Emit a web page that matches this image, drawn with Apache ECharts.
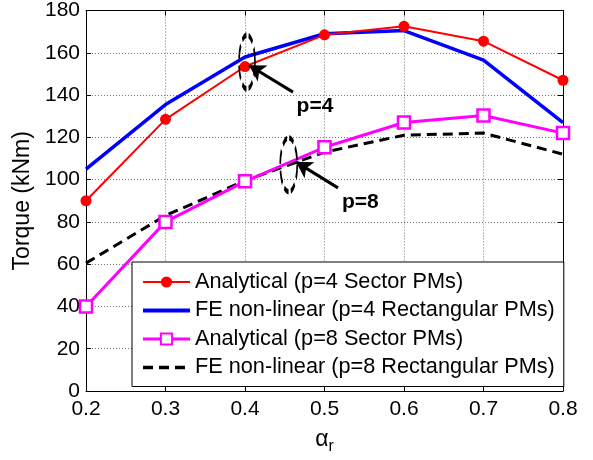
<!DOCTYPE html>
<html>
<head>
<meta charset="utf-8">
<script src="https://cdn.jsdelivr.net/npm/echarts@6/dist/echarts.min.js"></script>
<style>html,body{margin:0;padding:0;background:#fff;}#c{width:593px;height:460px;}</style>
</head>
<body>
<div id="c"></div>
<script>
const alphaR = [0.2, 0.3, 0.4, 0.5, 0.6, 0.7, 0.8];
const analyticalP4 = [90, 128.5, 153.5, 168.5, 172.5, 165.5, 147];
const feP4 = [105, 135.5, 158, 169, 170.5, 156.5, 127];
const analyticalP8 = [40, 80, 99.2, 115.3, 127, 130.3, 122];
const feP8 = [60.5, 83, 99.5, 113, 121, 122, 112];
const seriesNames = [
  'Analytical (p=4 Sector PMs)',
  'FE non-linear (p=4 Rectangular PMs)',
  'Analytical (p=8 Sector PMs)',
  'FE non-linear (p=8 Rectangular PMs)'
];
// annotation anchors in data units
const ellipseP4 = [0.4025, 155.6];
const ellipseP8 = [0.455, 107];
const arrowP4 = [[0.4604, 141.4], [0.405, 154.1]];
const arrowP8 = [[0.517, 96.1], [0.464, 108.4]];
const labelP4 = [0.488, 134.5];
const labelP8 = [0.545, 89.5];

const FONT = 'Liberation Sans, Arial, sans-serif';
const pairs = (ys) => alphaR.map((x, i) => [x, ys[i]]);

const chart = echarts.init(document.getElementById('c'), null, {renderer: 'canvas'});
const axisCommonX = {
  type: 'value', min: 0.2, max: 0.8, interval: 0.1,
  axisLine: {show: true, onZero: false, lineStyle: {color: '#000', width: 1}},
  axisTick: {show: true, inside: true, length: 5, lineStyle: {color: '#000'}},
  splitLine: {show: false}
};
const axisCommonY = {
  type: 'value', min: 0, max: 180, interval: 20,
  axisLine: {show: true, onZero: false, lineStyle: {color: '#000', width: 1}},
  axisTick: {show: true, inside: true, length: 5, lineStyle: {color: '#000'}},
  splitLine: {show: false}
};
const ellipseStyle = {color: 'rgba(0,0,0,0)', borderColor: '#000', borderWidth: 3, borderType: [8, 4]};
const pLabel = (t) => ({show: true, position: 'inside', formatter: t, color: '#000',
  fontFamily: FONT, fontSize: 21, fontWeight: 'bold'});
const option = {
  animation: false,
  backgroundColor: '#fff',
  grid: {left: 86, right: 30, top: 10, bottom: 68, containLabel: false},
  xAxis: [
    Object.assign({}, axisCommonX, {
      position: 'bottom',
      axisLabel: {show: true, color: '#000', fontFamily: FONT, fontSize: 21, margin: 8,
        formatter: v => v.toFixed(1)},
      splitLine: {show: true, lineStyle: {color: '#777', type: [1, 2], width: 1}},
      name: '{a|α}{s|r}',
      nameLocation: 'middle', nameGap: 34,
      nameTextStyle: {rich: {
        a: {fontFamily: FONT, fontSize: 23, color: '#000'},
        s: {fontFamily: FONT, fontSize: 16, color: '#000', padding: [14, 0, 0, 0]}
      }}
    }),
    Object.assign({}, axisCommonX, {position: 'top', axisLabel: {show: false}})
  ],
  yAxis: [
    Object.assign({}, axisCommonY, {
      position: 'left',
      axisLabel: {show: true, color: '#000', fontFamily: FONT, fontSize: 21, margin: 6},
      splitLine: {show: true, lineStyle: {color: '#777', type: [1, 2], width: 1}},
      name: 'Torque (kNm)', nameLocation: 'middle', nameGap: 51,
      nameTextStyle: {fontFamily: FONT, fontSize: 23, color: '#000'}
    }),
    Object.assign({}, axisCommonY, {position: 'right', axisLabel: {show: false}})
  ],
  legend: {
    orient: 'vertical', left: 132, top: 262,
    backgroundColor: '#fff', borderColor: '#000', borderWidth: 1,
    padding: [9, 9, 8, 9], itemGap: 6.5, itemWidth: 47, itemHeight: 14,
    textStyle: {fontFamily: FONT, fontSize: 21.7, color: '#000', lineHeight: 21},
    data: [
      {name: seriesNames[0], lineStyle: {width: 2}},
      {name: seriesNames[1], itemStyle: {opacity: 0}, lineStyle: {width: 4}},
      {name: seriesNames[2], lineStyle: {width: 3}},
      {name: seriesNames[3], itemStyle: {opacity: 0}, lineStyle: {width: 3.5}}
    ]
  },
  series: [
    {
      name: seriesNames[0], type: 'line', data: pairs(analyticalP4), z: 3,
      symbol: 'circle', symbolSize: 11, showAllSymbol: true,
      lineStyle: {color: '#ff0000', width: 2}, itemStyle: {color: '#ff0000'},
      markLine: {
        silent: true, symbol: ['none', 'arrow'], symbolSize: [14, 16],
        lineStyle: {color: '#000', width: 3, type: 'solid'},
        label: {show: false},
        data: [
          [{coord: arrowP4[0]}, {coord: arrowP4[1]}],
          [{coord: arrowP8[0]}, {coord: arrowP8[1]}]
        ]
      },
      markPoint: {
        silent: true,
        data: [
          {coord: ellipseP4, symbol: 'circle', symbolSize: [16, 54], itemStyle: ellipseStyle, label: {show: false}},
          {coord: ellipseP8, symbol: 'circle', symbolSize: [17, 54], itemStyle: ellipseStyle, label: {show: false}},
          {coord: labelP4, symbol: 'circle', symbolSize: 0, value: 'p=4', label: pLabel('p=4')},
          {coord: labelP8, symbol: 'circle', symbolSize: 0, value: 'p=8', label: pLabel('p=8')}
        ]
      }
    },
    {
      name: seriesNames[1], type: 'line', data: pairs(feP4), z: 2,
      symbol: 'none', lineStyle: {color: '#0000ff', width: 3.5}, itemStyle: {color: '#0000ff'}
    },
    {
      name: seriesNames[2], type: 'line', data: pairs(analyticalP8), z: 3,
      symbol: 'rect', symbolSize: 12, showAllSymbol: true,
      lineStyle: {color: '#ff00ff', width: 3},
      itemStyle: {color: '#fff', borderColor: '#ff00ff', borderWidth: 2.5}
    },
    {
      name: seriesNames[3], type: 'line', data: pairs(feP8), z: 2,
      symbol: 'none', lineStyle: {color: '#000', width: 3, type: [10, 6]}, itemStyle: {color: '#000'}
    }
  ]
};
chart.setOption(option);
</script>
</body>
</html>
